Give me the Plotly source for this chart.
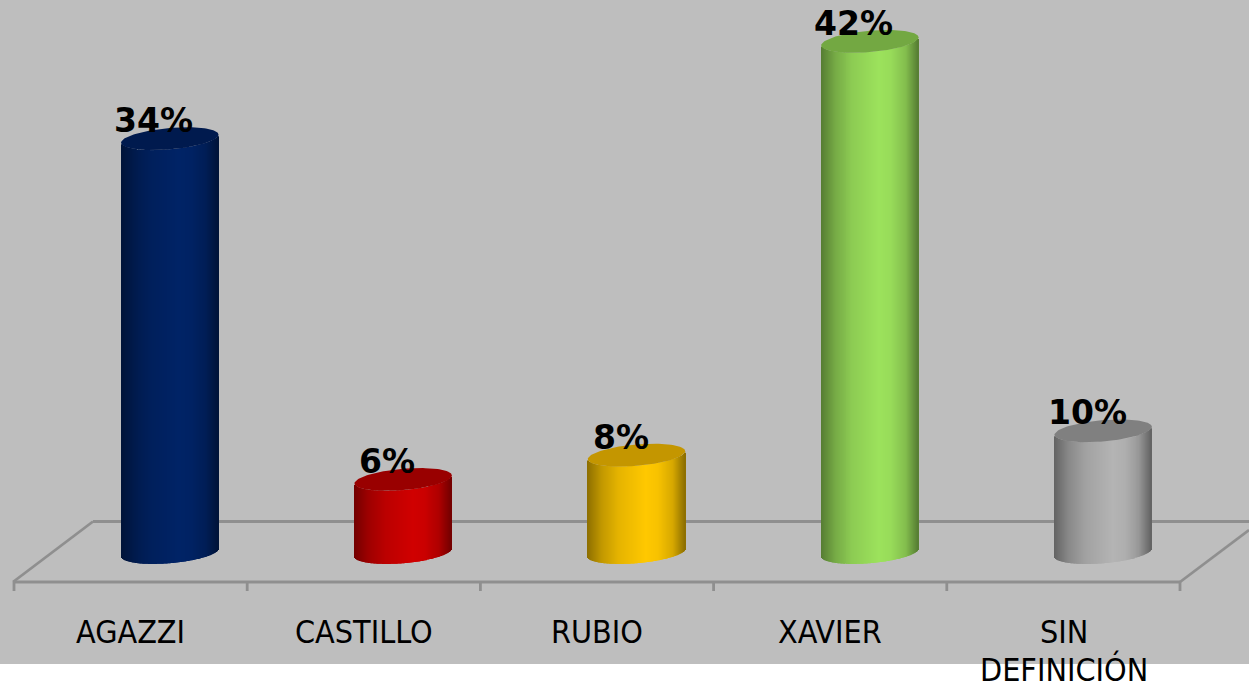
import numpy as np
import plotly.graph_objects as go

categories = ["AGAZZI", "CASTILLO", "RUBIO", "XAVIER", "SIN<br>DEFINICIÓN"]
values = [34, 6, 8, 42, 10]
body_colors = ["#002366", "#D00000", "#FFC800", "#9CE25C", "#B4B4B4"]
cap_colors = ["#001A4E", "#990000", "#C49600", "#73A842", "#808080"]

W, H, BG_BOTTOM = 1249, 685, 664
PX_X0, PX_PER_CAT = 169.8, 233.35  # pixel of category 0, pixels per category
PX_Y0, PX_PER_UNIT = 552.5, 12.17  # pixel of value 0, pixels per unit


def cat(px):
    return (px - PX_X0) / PX_PER_CAT


def val(py):
    return (PX_Y0 - py) / PX_PER_UNIT


HALF_W = 48.7 / PX_PER_CAT
ELL_B = 10.7 / PX_PER_UNIT
TILT = 4 / PX_PER_UNIT
STRIPS = 98


def shade(hex_color, f):
    rgb = [int(hex_color[i:i + 2], 16) for i in (1, 3, 5)]
    return "rgb({},{},{})".format(*[int(round(c * f)) for c in rgb])


def profile(u):
    return np.interp(u, [-1, -0.7, -0.35, 0.2, 0.45, 0.75, 1],
                     [0.55, 0.76, 0.9, 1.0, 0.97, 0.84, 0.55])


xs, heights, bases, colors = [], [], [], []
for i, v in enumerate(values):
    for u in (np.arange(STRIPS) + 0.5) / STRIPS * 2 - 1:
        xs.append(i + u * HALF_W)
        heights.append(v)
        bases.append(TILT * u - ELL_B * np.sqrt(1 - u * u))
        colors.append(shade(body_colors[i], float(profile(u))))

fig = go.Figure()
fig.add_trace(go.Bar(x=xs, y=heights, base=bases, width=2 * HALF_W / STRIPS,
                     marker=dict(color=colors, line=dict(width=0)),
                     showlegend=False, hoverinfo="skip"))

t = np.linspace(0, 2 * np.pi, 121)
for i, v in enumerate(values):
    fig.add_trace(go.Scatter(x=i + HALF_W * np.cos(t),
                             y=v + TILT * np.cos(t) + ELL_B * np.sin(t),
                             mode="lines", fill="toself", fillcolor=cap_colors[i],
                             line=dict(width=0), showlegend=False, hoverinfo="skip"))

floor_color = "#8F8F8F"
segments = [((13, 582), (93, 521.5)), ((93, 521.5), (1249, 521.5)), ((13, 582), (1180, 582)),
            ((1180, 582), (1249, 530))]
for k in range(6):
    tick_x = 14 + 233.2 * k
    segments.append(((tick_x, 582), (tick_x, 591)))
shapes = [dict(type="line", layer="below", xref="x", yref="y",
               x0=cat(a[0]), y0=val(a[1]), x1=cat(b[0]), y1=val(b[1]),
               line=dict(color=floor_color, width=2.8)) for a, b in segments]

annotations = []
for i, v in enumerate(values):
    annotations.append(dict(x=i, y=v, text=f"<b>{v}%</b>", showarrow=False, xshift=-16, yshift=18,
                            xanchor="center", yanchor="middle",
                            font=dict(family="DejaVu Sans", size=33, color="#000000")))
for i, c in enumerate(categories):
    for n, line in enumerate(c.split("<br>")):
        annotations.append(dict(x=i, xref="x", yref="paper", y=(BG_BOTTOM - (632 + 38 * n)) / BG_BOTTOM,
                                text=line, showarrow=False, xshift=-39.5,
                                xanchor="center", yanchor="middle", align="center",
                                font=dict(family="DejaVu Sans Condensed, Noto Sans", size=32, color="#000000")))

fig.update_layout(width=W, height=H, margin=dict(l=0, r=0, t=0, b=H - BG_BOTTOM),
                  paper_bgcolor="#FFFFFF", plot_bgcolor="#BEBEBE", barmode="overlay",
                  xaxis=dict(range=[cat(0), cat(W)], visible=False, fixedrange=True),
                  yaxis=dict(range=[val(BG_BOTTOM), val(0)], visible=False, fixedrange=True),
                  shapes=shapes, annotations=annotations, showlegend=False)
fig.write_html("out.html", config=dict(displayModeBar=False),
               post_script="document.body.style.margin='0';document.body.style.overflow='hidden';")
